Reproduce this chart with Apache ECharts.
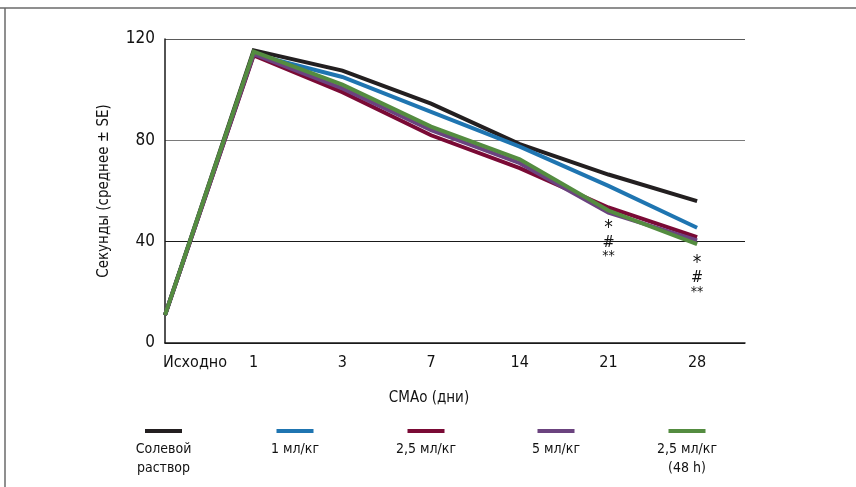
<!DOCTYPE html>
<html>
<head>
<meta charset="utf-8">
<script src="https://cdn.jsdelivr.net/npm/echarts@6/dist/echarts.min.js"></script>
<style>
html,body{margin:0;padding:0;background:#fff;}
#chart{width:856px;height:487px;}
</style>
</head>
<body>
<div id="chart"></div>
<script>
const categories = ['Исходно', '1', '3', '7', '14', '21', '28'];
const seriesNames = ['Солевой раствор', '1 мл/кг', '2,5 мл/кг', '5 мл/кг', '2,5 мл/кг (48 h)'];
const legendLabels = ['Солевой\nраствор', '1 мл/кг', '2,5 мл/кг', '5 мл/кг', '2,5 мл/кг\n(48 h)'];
const saline   = [11, 115.5, 107.5, 94.5, 78.5, 66.5, 56];
const dose1    = [11, 114, 105, 91.2, 77.5, 62, 45.5];
const dose25   = [11, 113.5, 99, 82, 69, 53.5, 41.8];
const dose5    = [11, 114, 100.5, 84, 71, 51.5, 40.5];
const dose25h  = [11, 115, 102, 85.4, 72.5, 52.3, 39];
const yTicks = [0, 40, 80, 120];
const colors = ['#231f20', '#1f75b1', '#7a0a35', '#6b437f', '#548c40'];
const values = [saline, dose1, dose25, dose5, dose25h];
const annotations = [{cat: 5, y: 40}, {cat: 6, y: 26}];

const FONT = '"Liberation Sans Narrow", "DejaVu Sans Condensed", sans-serif';
const TXT = '#111';

const chart = echarts.init(document.getElementById('chart'));

const legendCenters = [163.5, 295, 426, 556, 687];
const legends = seriesNames.map((n, i) => ({
  data: [n],
  left: legendCenters[i] - 18.5,
  top: 429,
  itemWidth: 37,
  itemHeight: 4,
  icon: 'rect',
  selectedMode: false,
  formatter: () => '',
  textStyle: {fontSize: 1},
  padding: 0
}));

const series = values.map((v, i) => ({
  name: seriesNames[i],
  type: 'line',
  data: v.map((y, k) => [k, y]),
  symbol: 'none',
  lineStyle: {width: 4, color: colors[i], join: 'miter'},
  itemStyle: {color: colors[i]},
  z: 2 + i,
  silent: true,
  markPoint: i === 4 ? {
    symbol: 'circle',
    symbolSize: 0,
    silent: true,
    label: {
      show: true,
      position: 'inside',
      formatter: '{a|*}\n{b|#}\n{c|**}',
      rich: {
        a: {fontSize: 19, lineHeight: 15, fontFamily: FONT, color: TXT, align: 'center'},
        b: {fontSize: 16, lineHeight: 15, fontFamily: FONT, color: TXT, align: 'center'},
        c: {fontSize: 14, lineHeight: 13, fontFamily: FONT, color: TXT, align: 'center'}
      }
    },
    data: annotations.map(a => ({coord: [a.cat, a.y]}))
  } : undefined
}));

const graphics = [
  {type: 'line', shape: {x1: 0, y1: 8, x2: 856, y2: 8}, style: {stroke: '#6a6a6a', lineWidth: 1.5}},
  {type: 'line', shape: {x1: 5, y1: 8, x2: 5, y2: 487}, style: {stroke: '#6a6a6a', lineWidth: 1.5}}
];
legendLabels.forEach((t, i) => {
  graphics.push({
    type: 'text',
    x: legendCenters[i],
    y: 440,
    style: {text: t, textAlign: 'center', textVerticalAlign: 'top', font: '14px ' + FONT, fill: TXT, lineHeight: 19}
  });
});

chart.setOption({
  animation: false,
  backgroundColor: '#fff',
  grid: {left: 165, top: 39, width: 580, height: 304, containLabel: false},
  legend: legends,
  xAxis: {
    type: 'value',
    min: 0,
    max: 6.54,
    interval: 1,
    name: 'СМАо (дни)',
    nameLocation: 'middle',
    nameGap: 48,
    nameTextStyle: {fontFamily: FONT, fontSize: 15, color: TXT, padding: [0, 52, 0, 0]},
    axisLine: {show: true, lineStyle: {color: '#1a1a1a', width: 1.5}},
    axisTick: {show: false},
    splitLine: {show: false},
    axisLabel: {
      margin: 12,
      fontFamily: FONT,
      fontSize: 16,
      color: TXT,
      showMaxLabel: false,
      formatter: (v) => {
        const i = Math.round(v);
        if (i < 0 || i >= categories.length || Math.abs(v - i) > 1e-6) return '';
        if (i === 0) return '{f|' + categories[0] + '}';
        return categories[i];
      },
      rich: {f: {fontFamily: FONT, fontSize: 16, color: TXT, padding: [0, 0, 0, 60]}}
    }
  },
  yAxis: {
    type: 'value',
    min: 0,
    max: 120,
    interval: 40,
    name: 'Секунды (среднее ± SE)',
    nameLocation: 'middle',
    nameGap: 53,
    nameTextStyle: {fontFamily: FONT, fontSize: 15, color: TXT},
    axisLine: {show: true, lineStyle: {color: '#1a1a1a', width: 1.5}},
    axisTick: {show: false},
    axisLabel: {
      margin: 10,
      fontFamily: FONT,
      fontSize: 17,
      color: TXT,
      formatter: (v) => yTicks.includes(v) ? String(v) : ''
    },
    splitLine: {show: true, lineStyle: {color: ['#1a1a1a', '#1a1a1a', '#7a7a7a', '#5a5a5a'], width: 1.2}}
  },
  graphic: graphics,
  series: series
});
</script>
</body>
</html>
